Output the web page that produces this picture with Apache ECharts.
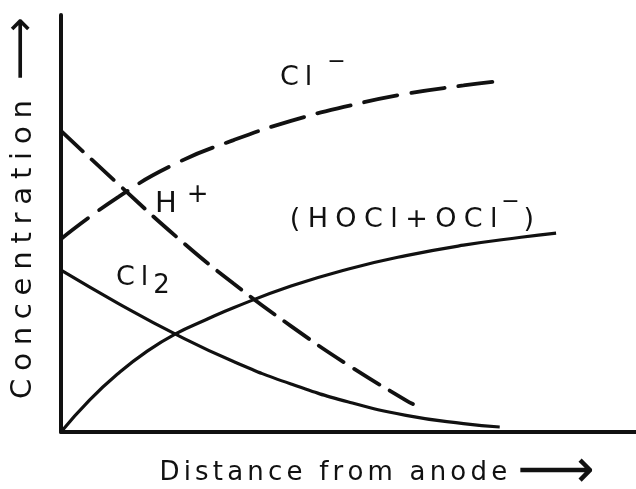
<!DOCTYPE html>
<html>
<head>
<meta charset="utf-8">
<script src="https://cdn.jsdelivr.net/npm/echarts@6/dist/echarts.min.js"></script>
<style>
    html, body { margin: 0; padding: 0; background: #fff; }
    #chart { width: 636px; height: 489px; }
</style>
</head>
<body>
<div id="chart"></div>
<script>
// values: x = distance from anode (0-100), y = concentration (0-100)
const chlorideIon = [[0, 46.3], [10, 56.4], [20, 64.4], [30, 70.0], [40, 74.6], [50, 78.2], [60, 81.1], [70, 83.1], [77.2, 84.3]];
const hydrogenIon = [[0, 72.2], [10, 59.4], [20, 46.9], [30, 35.6], [40, 25.4], [50, 16.0], [60, 7.6], [61.2, 6.7]];
const chlorine = [[0, 38.8], [10, 30.8], [20, 23.4], [30, 16.9], [40, 11.5], [50, 7.2], [60, 4.0], [70, 2.0], [76.3, 1.2]];
const hypochlorite = [[0, 0], [5, 7.7], [10, 14.1], [15, 19.4], [20, 23.6], [25, 26.8], [30, 29.8], [40, 35.0], [50, 39.1], [60, 42.3], [70, 44.8], [80, 46.7], [86.1, 47.7]];

const INK = '#111';
const FONT = 'DejaVu Sans';

// wrap every character in its own rich token so it can be spread out
function spaced(text, key) {
    return text.split('').map(c => '{' + key + '|' + c + '}').join('');
}

function glyph(size, extra) {
    return Object.assign({ fontFamily: FONT, fontSize: size, fill: INK }, extra || {});
}

const chart = echarts.init(document.getElementById('chart'));

function lineSeries(name, data, dash) {
    return {
        name: name,
        type: 'line',
        data: data,
        smooth: 0.5,
        showSymbol: false,
        silent: true,
        lineStyle: {
            color: INK,
            width: dash ? 3.8 : 3.2,
            type: dash || 'solid',
            cap: dash ? 'round' : 'butt'
        }
    };
}

const option = {
    animation: false,
    backgroundColor: '#fff',
    grid: { left: 61, right: 0, top: 15, bottom: 57 },
    xAxis: {
        type: 'value', min: 0, max: 100,
        axisLine: { lineStyle: { color: INK, width: 4 } },
        axisTick: { show: false }, axisLabel: { show: false }, splitLine: { show: false }
    },
    yAxis: {
        type: 'value', min: 0, max: 100,
        axisLine: { show: true, lineStyle: { color: INK, width: 4 } },
        axisTick: { show: false }, axisLabel: { show: false }, splitLine: { show: false }
    },
    series: [
        lineSeries('Cl-', chlorideIon, [34, 14]),
        lineSeries('H+', hydrogenIon, [30, 12]),
        lineSeries('Cl2', chlorine),
        lineSeries('HOCl+OCl-', hypochlorite)
    ],
    graphic: [
        {
            type: 'text', x: 23, y: 210, rotation: Math.PI / 2,
            style: {
                text: spaced('Concentration', 'a') + '{arr|⟶}',
                align: 'center', verticalAlign: 'middle', fill: INK,
                rich: {
                    a: glyph(29, { padding: [0, 3.9] }),
                    arr: glyph(44, { padding: [0, 0, 0, 16] })
                }
            }
        },
        {
            type: 'text', x: 376, y: 473,
            style: {
                text: spaced('Distance from anode', 'a') + '{arr|⟶}',
                align: 'center', verticalAlign: 'middle', fill: INK,
                rich: {
                    a: glyph(26, { padding: [0, 2.1] }),
                    arr: glyph(54, { padding: [0, 0, 0, 8] })
                }
            }
        },
        {
            type: 'text', x: 277, y: 78,
            style: {
                text: spaced('Cl', 'm') + '{sup|−}',
                align: 'left', verticalAlign: 'middle', fill: INK,
                rich: {
                    m: glyph(27, { lineHeight: 54, padding: [0, 3] }),
                    sup: glyph(22, { verticalAlign: 'top', padding: [0, 0, 0, 12] })
                }
            }
        },
        {
            type: 'text', x: 155, y: 204,
            style: {
                text: '{m|H}{sup|+}',
                align: 'left', verticalAlign: 'middle', fill: INK,
                rich: {
                    m: glyph(29, { lineHeight: 44 }),
                    sup: glyph(26, { verticalAlign: 'top', padding: [0, 0, 0, 10] })
                }
            }
        },
        {
            type: 'text', x: 113, y: 278,
            style: {
                text: spaced('Cl', 'm') + '{sub|2}',
                align: 'left', verticalAlign: 'middle', fill: INK,
                rich: {
                    m: glyph(27, { lineHeight: 42, padding: [0, 3] }),
                    sub: glyph(26, { verticalAlign: 'bottom', padding: [0, 0, 0, 2] })
                }
            }
        },
        {
            type: 'text', x: 286, y: 220,
            style: {
                text: spaced('(HOCl+OCl', 'm') + '{sup|−}' + spaced(')', 'm'),
                align: 'left', verticalAlign: 'middle', fill: INK,
                rich: {
                    m: glyph(27, { lineHeight: 58, padding: [0, 3.7] }),
                    sup: glyph(22, { verticalAlign: 'top' })
                }
            }
        }
    ]
};

chart.setOption(option);
</script>
</body>
</html>
